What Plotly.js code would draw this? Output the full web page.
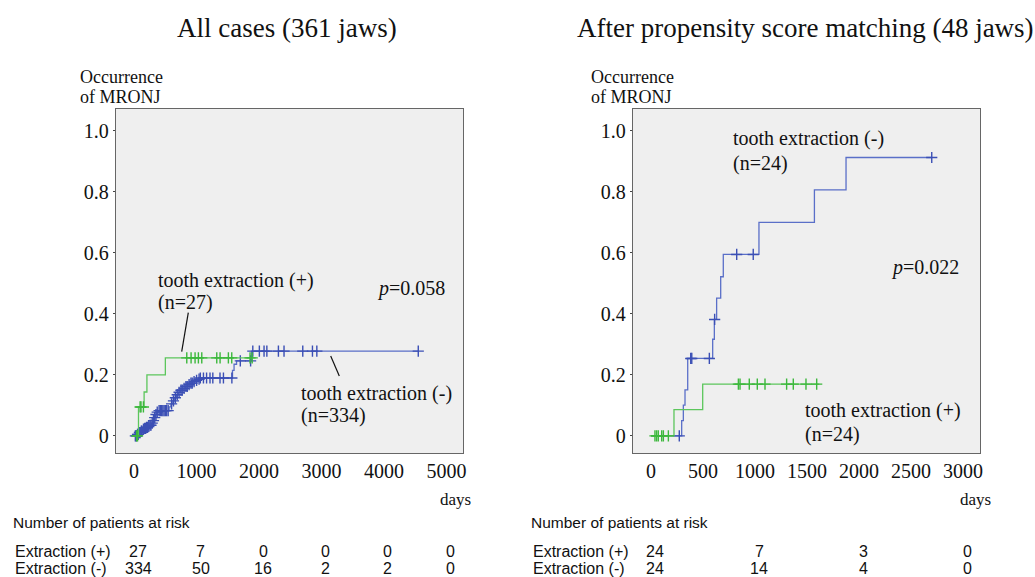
<!DOCTYPE html>
<html>
<head>
<meta charset="utf-8">
<script src="https://cdn.plot.ly/plotly-3.0.1.min.js"></script>
<style>html,body{margin:0;padding:0;background:#fff;}#chart{width:1035px;height:577px;}</style>
</head>
<body>
<div id="chart"></div>
<script>
// ---------- DATA ----------
// Left panel: all cases (361 jaws)
const leftPlusTimes  = [0, 70, 160, 205, 500];
const leftPlusValues = [0, 0.095, 0.144, 0.2, 0.256];
const leftPlusEnd    = 1890;
const leftPlusCensor = [40, 55, 96, 110, 149, 843, 912, 976, 1029, 1083, 1323, 1376, 1509, 1563, 1856, 1890];

const leftMinusTimes  = [0, 40, 70, 100, 130, 160, 190, 220, 250, 280, 300, 320, 340, 360, 390, 560, 590, 620, 650, 680, 710, 740, 780, 820, 860, 900, 940, 980, 1020, 1060, 1575, 1600, 1640, 1880];
const leftMinusValues = [0, 0.005, 0.011, 0.016, 0.022, 0.025, 0.028, 0.031, 0.035, 0.042, 0.05, 0.06, 0.07, 0.078, 0.083, 0.095, 0.105, 0.115, 0.125, 0.135, 0.143, 0.15, 0.156, 0.162, 0.168, 0.173, 0.178, 0.182, 0.186, 0.19, 0.215, 0.235, 0.246, 0.278];
const leftMinusEnd    = 4549;
const leftMinusCensor = [20, 35, 55, 65, 85, 95, 115, 125, 150, 170, 185, 200, 215, 235, 255, 270, 290, 310, 330, 350, 370, 400, 420, 440, 460, 480, 500, 520, 545, 600, 630, 660, 690, 720, 750, 770, 800, 830, 850, 880, 910, 930, 960, 1000, 1040, 1060, 1110, 1160, 1215, 1260, 1375, 1430, 1565, 1700, 1865, 1900, 2005, 2080, 2125, 2310, 2400, 2700, 2855, 2925, 4549];

// Right panel: after propensity score matching (48 jaws)
const rightPlusTimes  = [0, 221, 497];
const rightPlusValues = [0, 0.086, 0.17];
const rightPlusEnd    = 1618;
const rightPlusCensor = [38, 54, 70, 103, 119, 167, 840, 856, 945, 1022, 1096, 1304, 1368, 1490, 1593];

const rightMinusTimes  = [0, 295, 311, 327, 353, 593, 609, 631, 670, 695, 1038, 1571, 1875];
const rightMinusValues = [0, 0.05, 0.101, 0.151, 0.254, 0.317, 0.382, 0.452, 0.522, 0.595, 0.70, 0.807, 0.913];
const rightMinusEnd    = 2699;
const rightMinusCensor = [272, 382, 392, 561, 612, 824, 983, 2699];

// Number at risk tables
const riskTimesLeft  = [0, 1000, 2000, 3000, 4000, 5000];
const riskPlusLeft   = [27, 7, 0, 0, 0, 0];
const riskMinusLeft  = [334, 50, 16, 2, 2, 0];
const riskTimesRight = [0, 1000, 2000, 3000];
const riskPlusRight  = [24, 7, 3, 0];
const riskMinusRight = [24, 14, 4, 0];

const yTickVals = [0, 0.2, 0.4, 0.6, 0.8, 1.0];
const yTickText = ['0', '0.2', '0.4', '0.6', '0.8', '1.0'];
const xTickLeft  = [0, 1000, 2000, 3000, 4000, 5000];
const xTickRight = [0, 500, 1000, 1500, 2000, 2500, 3000];

// ---------- HELPERS ----------
function stepAt(times, values, t) {
  let v = values[0];
  for (let i = 0; i < times.length; i++) { if (times[i] <= t) v = values[i]; }
  return v;
}
const GREEN = '#5cc65c', GREEN_M = '#3cb83c';
const BLUE = '#5a6fc8', BLUE_M = '#3b4fb5';

function curve(times, values, end, color, xa, ya) {
  return {
    type: 'scatter', mode: 'lines', xaxis: xa, yaxis: ya,
    x: times.concat([end]), y: values.concat([values[values.length - 1]]),
    line: {shape: 'hv', color: color, width: 1.3}, hoverinfo: 'skip', showlegend: false
  };
}
function censor(times, values, cens, color, xa, ya) {
  return {
    type: 'scatter', mode: 'markers', xaxis: xa, yaxis: ya,
    x: cens, y: cens.map(t => stepAt(times, values, t)),
    marker: {symbol: 'cross-thin-open', size: 8, color: color, line: {color: color, width: 1.4}},
    hoverinfo: 'skip', showlegend: false
  };
}

const traces = [
  curve(leftMinusTimes, leftMinusValues, leftMinusEnd, BLUE, 'x', 'y'),
  censor(leftMinusTimes, leftMinusValues, leftMinusCensor, BLUE_M, 'x', 'y'),
  curve(leftPlusTimes, leftPlusValues, leftPlusEnd, GREEN, 'x', 'y'),
  censor(leftPlusTimes, leftPlusValues, leftPlusCensor, GREEN_M, 'x', 'y'),
  curve(rightMinusTimes, rightMinusValues, rightMinusEnd, BLUE, 'x2', 'y2'),
  censor(rightMinusTimes, rightMinusValues, rightMinusCensor, BLUE_M, 'x2', 'y2'),
  curve(rightPlusTimes, rightPlusValues, rightPlusEnd, GREEN, 'x2', 'y2'),
  censor(rightPlusTimes, rightPlusValues, rightPlusCensor, GREEN_M, 'x2', 'y2')
];

const W = 1035, H = 577;
const px = x => x / W, py = y => 1 - y / H;
const SERIF = '"Liberation Serif"';
const SANS = '"Liberation Sans"';

function axisX(domain, range, vals) {
  return {
    domain: domain, range: range, tickvals: vals, ticks: '', showgrid: false, zeroline: false,
    showline: true, mirror: true, linecolor: '#666', linewidth: 1.2,
    tickfont: {family: SERIF, size: 20, color: '#111'}, fixedrange: true
  };
}
function axisY(domain, anchor) {
  return {
    domain: domain, range: [-0.056, 1.072], tickvals: yTickVals, ticktext: yTickText,
    ticks: 'outside', ticklen: 2, tickcolor: '#444', showgrid: false, zeroline: false,
    showline: true, mirror: true, linecolor: '#666', linewidth: 1.2, anchor: anchor,
    tickfont: {family: SERIF, size: 20, color: '#111'}, fixedrange: true
  };
}
const yDom = [(H - 453) / H, (H - 109) / H];

const ann = [];
function txt(text, x, y, size, opts) {
  ann.push(Object.assign({text: text, x: px(x), y: py(y), xref: 'paper', yref: 'paper', showarrow: false,
    xanchor: 'left', yanchor: 'middle', font: {family: SERIF, size: size, color: '#111'}}, opts || {}));
}
// titles
txt('All cases (361 jaws)', 287, 28, 27, {xanchor: 'center'});
txt('After propensity score matching (48 jaws)', 805, 28, 27, {xanchor: 'center'});
// y labels
txt('Occurrence', 78, 77, 18);
txt('of MRONJ', 78, 97, 18);
txt('Occurrence', 589, 77, 18);
txt('of MRONJ', 589, 97, 18);
// days
txt('days', 455, 499, 17, {xanchor: 'center'});
txt('days', 975, 499, 17, {xanchor: 'center'});
// in-plot labels left
txt('tooth extraction (+)', 156, 280, 20);
txt('(n=27)', 156, 302, 20);
txt('<i>p</i>=0.058', 375, 288, 20);
txt('tooth extraction (-)', 299, 393, 20);
txt('(n=334)', 299, 415, 20);
// in-plot labels right
txt('tooth extraction (-)', 731, 139, 20);
txt('(n=24)', 731, 163, 20);
txt('<i>p</i>=0.022', 889, 267, 20);
txt('tooth extraction (+)', 803, 410, 20);
txt('(n=24)', 803, 434, 20);
// risk tables
function riskTable(x0, xa, times, plus, minus) {
  const fh = {family: SANS, size: 15.5, color: '#111'};
  const f = {family: SANS, size: 16, color: '#111'};
  txt('Number of patients at risk', x0 - 2, 522, 15.5, {font: fh});
  txt('Extraction (+)', x0, 551, 16, {font: f});
  txt('Extraction (-)', x0, 568, 16, {font: f});
  times.forEach((t, i) => {
    ann.push({text: String(plus[i]), x: t, y: py(551), xref: xa, yref: 'paper', showarrow: false,
      xanchor: 'center', yanchor: 'middle', xshift: 4, font: f});
    ann.push({text: String(minus[i]), x: t, y: py(568), xref: xa, yref: 'paper', showarrow: false,
      xanchor: 'center', yanchor: 'middle', xshift: 4, font: f});
  });
}
riskTable(13, 'x', riskTimesLeft, riskPlusLeft, riskMinusLeft);
riskTable(531, 'x2', riskTimesRight, riskPlusRight, riskMinusRight);

const shapes = [
  {type: 'line', xref: 'paper', yref: 'paper', x0: px(188.3), y0: py(312.7), x1: px(181.7), y1: py(351.7), line: {color: '#111', width: 1.2}},
  {type: 'line', xref: 'paper', yref: 'paper', x0: px(330.7), y0: py(356), x1: px(339.3), y1: py(376), line: {color: '#111', width: 1.2}}
];

const layout = {
  width: W, height: H, margin: {l: 0, r: 0, t: 0, b: 0},
  paper_bgcolor: '#ffffff', plot_bgcolor: '#efefef', showlegend: false,
  xaxis: Object.assign(axisX([116 / W, 463 / W], [-290, 5265], xTickLeft), {anchor: 'y'}),
  yaxis: axisY(yDom, 'x'),
  xaxis2: Object.assign(axisX([633 / W, 980 / W], [-173, 3163], xTickRight), {anchor: 'y2'}),
  yaxis2: axisY(yDom, 'x2'),
  annotations: ann, shapes: shapes
};

Plotly.newPlot('chart', traces, layout, {displayModeBar: false, staticPlot: true});
</script>
</body>
</html>
